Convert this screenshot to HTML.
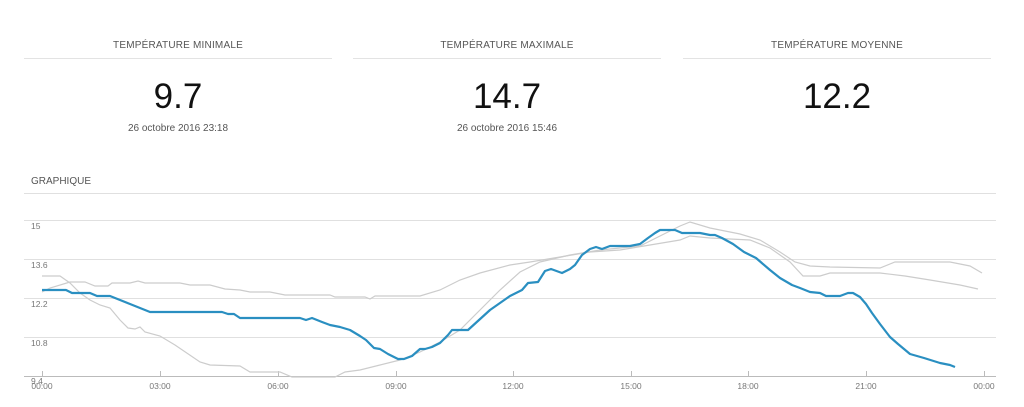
<!DOCTYPE html>
<html><head><meta charset="utf-8"><style>
body{margin:0;width:1024px;height:407px;background:#fff;font-family:"Liberation Sans",sans-serif;position:relative;overflow:hidden}
.t{position:absolute;font-size:10px;color:#555;text-align:center;width:308px;letter-spacing:0.2px}
.l{position:absolute;height:1px;background:#e3e3e3;width:308px;top:58px}
.n{position:absolute;font-size:35px;color:#111;text-align:center;width:308px;top:77px}
.d{position:absolute;font-size:10px;color:#555;text-align:center;width:308px;top:123px}
</style></head><body>
<div class="t" style="left:24px;top:40px">TEMPÉRATURE MINIMALE</div>
<div class="t" style="left:353px;top:40px">TEMPÉRATURE MAXIMALE</div>
<div class="t" style="left:683px;top:40px">TEMPÉRATURE MOYENNE</div>
<div class="l" style="left:24px"></div><div class="l" style="left:353px"></div><div class="l" style="left:683px"></div>
<div class="n" style="left:24px">9.7</div><div class="n" style="left:353px">14.7</div><div class="n" style="left:683px">12.2</div>
<div class="d" style="left:24px">26 octobre 2016 23:18</div><div class="d" style="left:353px">26 octobre 2016 15:46</div>
<div style="position:absolute;left:31px;top:176px;font-size:10px;color:#555">GRAPHIQUE</div>
<svg width="1024" height="407" style="position:absolute;left:0;top:0">
<g stroke="#e0e0e0" stroke-width="1">
<line x1="24" y1="193.5" x2="996" y2="193.5"/>
<line x1="24" y1="220.5" x2="996" y2="220.5"/>
<line x1="24" y1="259.5" x2="996" y2="259.5"/>
<line x1="24" y1="298.5" x2="996" y2="298.5"/>
<line x1="24" y1="337.5" x2="996" y2="337.5"/>
</g>
<line x1="24" y1="376.5" x2="996" y2="376.5" stroke="#bbb"/>
<g stroke="#bbb"><line x1="42.5" y1="371" x2="42.5" y2="377"/><line x1="160.5" y1="371" x2="160.5" y2="377"/><line x1="278.5" y1="371" x2="278.5" y2="377"/><line x1="396.5" y1="371" x2="396.5" y2="377"/><line x1="513.5" y1="371" x2="513.5" y2="377"/><line x1="631.5" y1="371" x2="631.5" y2="377"/><line x1="748.5" y1="371" x2="748.5" y2="377"/><line x1="866.5" y1="371" x2="866.5" y2="377"/><line x1="984.5" y1="371" x2="984.5" y2="377"/></g>
<g font-size="8.5" fill="#777" font-family="Liberation Sans,sans-serif">
<text x="31" y="229">15</text><text x="31" y="268">13.6</text><text x="31" y="307">12.2</text><text x="31" y="346">10.8</text><text x="31" y="384">9.4</text>
<g text-anchor="middle"><text x="42" y="389">00:00</text><text x="160" y="389">03:00</text><text x="278" y="389">06:00</text><text x="396" y="389">09:00</text><text x="513" y="389">12:00</text><text x="631" y="389">15:00</text><text x="748" y="389">18:00</text><text x="866" y="389">21:00</text><text x="984" y="389">00:00</text></g>
</g>
<g fill="none" stroke="#ccc" stroke-width="1.2">
<polyline points="42,292 50,288 70,282 85,282 95,286 108,286 112,283 130,283 138,281 145,283 180,283 190,285 210,285 225,289 240,290 250,292 270,292 285,295 330,295 335,297 365,297 370,299 375,296 420,296 440,290 460,280 480,273 510,265 530,262 560,257 590,252 620,250 650,245 680,240 690,236 710,238 750,240 770,248 790,262 803,276 820,276 830,273 880,273 905,276 930,280 960,285 978,289"/>
<polyline points="42,276 60,276 70,283 80,293 90,300 100,305 110,308 120,320 128,328 135,329 140,327 145,332 160,336 175,345 200,362 210,365 240,366 250,372 280,372 292,377 335,377 345,372 360,370 380,365 400,360 420,352 440,342 460,330 480,310 500,290 520,272 540,262 570,255 600,250 640,246 660,236 680,226 690,222 710,228 740,234 760,240 780,252 795,262 810,266 830,267 880,268 895,262 950,262 970,266 982,273"/>
</g>
<polyline fill="none" stroke="#2a8fc1" stroke-width="2.2" stroke-linejoin="round" points="42,290 66,290 72,293 90,293 97,296 110,296 130,304 150,312 222,312 228,314 234,314 240,318 300,318 306,320 312,318 322,322 330,325 340,327 350,330 360,336 366,340 374,348 380,349 388,354 398,359 404,359 412,356 420,349 425,349 432,347 440,343 448,335 452,330 468,330 490,310 510,296 516,293 522,290 528,283 538,282 545,271 551,269 562,273 570,269 575,265 582,255 590,249 596,247 602,249 610,246 630,246 640,244 648,238 655,233 660,230 675,230 682,233 700,233 710,235 715,235 722,238 733,244 744,252 756,258 770,270 780,278 792,285 800,288 810,292 820,293 826,296 840,296 848,293 853,293 860,297 866,304 872,313 880,324 890,337 898,344 910,354 924,358 940,363 950,365 955,367"/>
</svg>
</body></html>
